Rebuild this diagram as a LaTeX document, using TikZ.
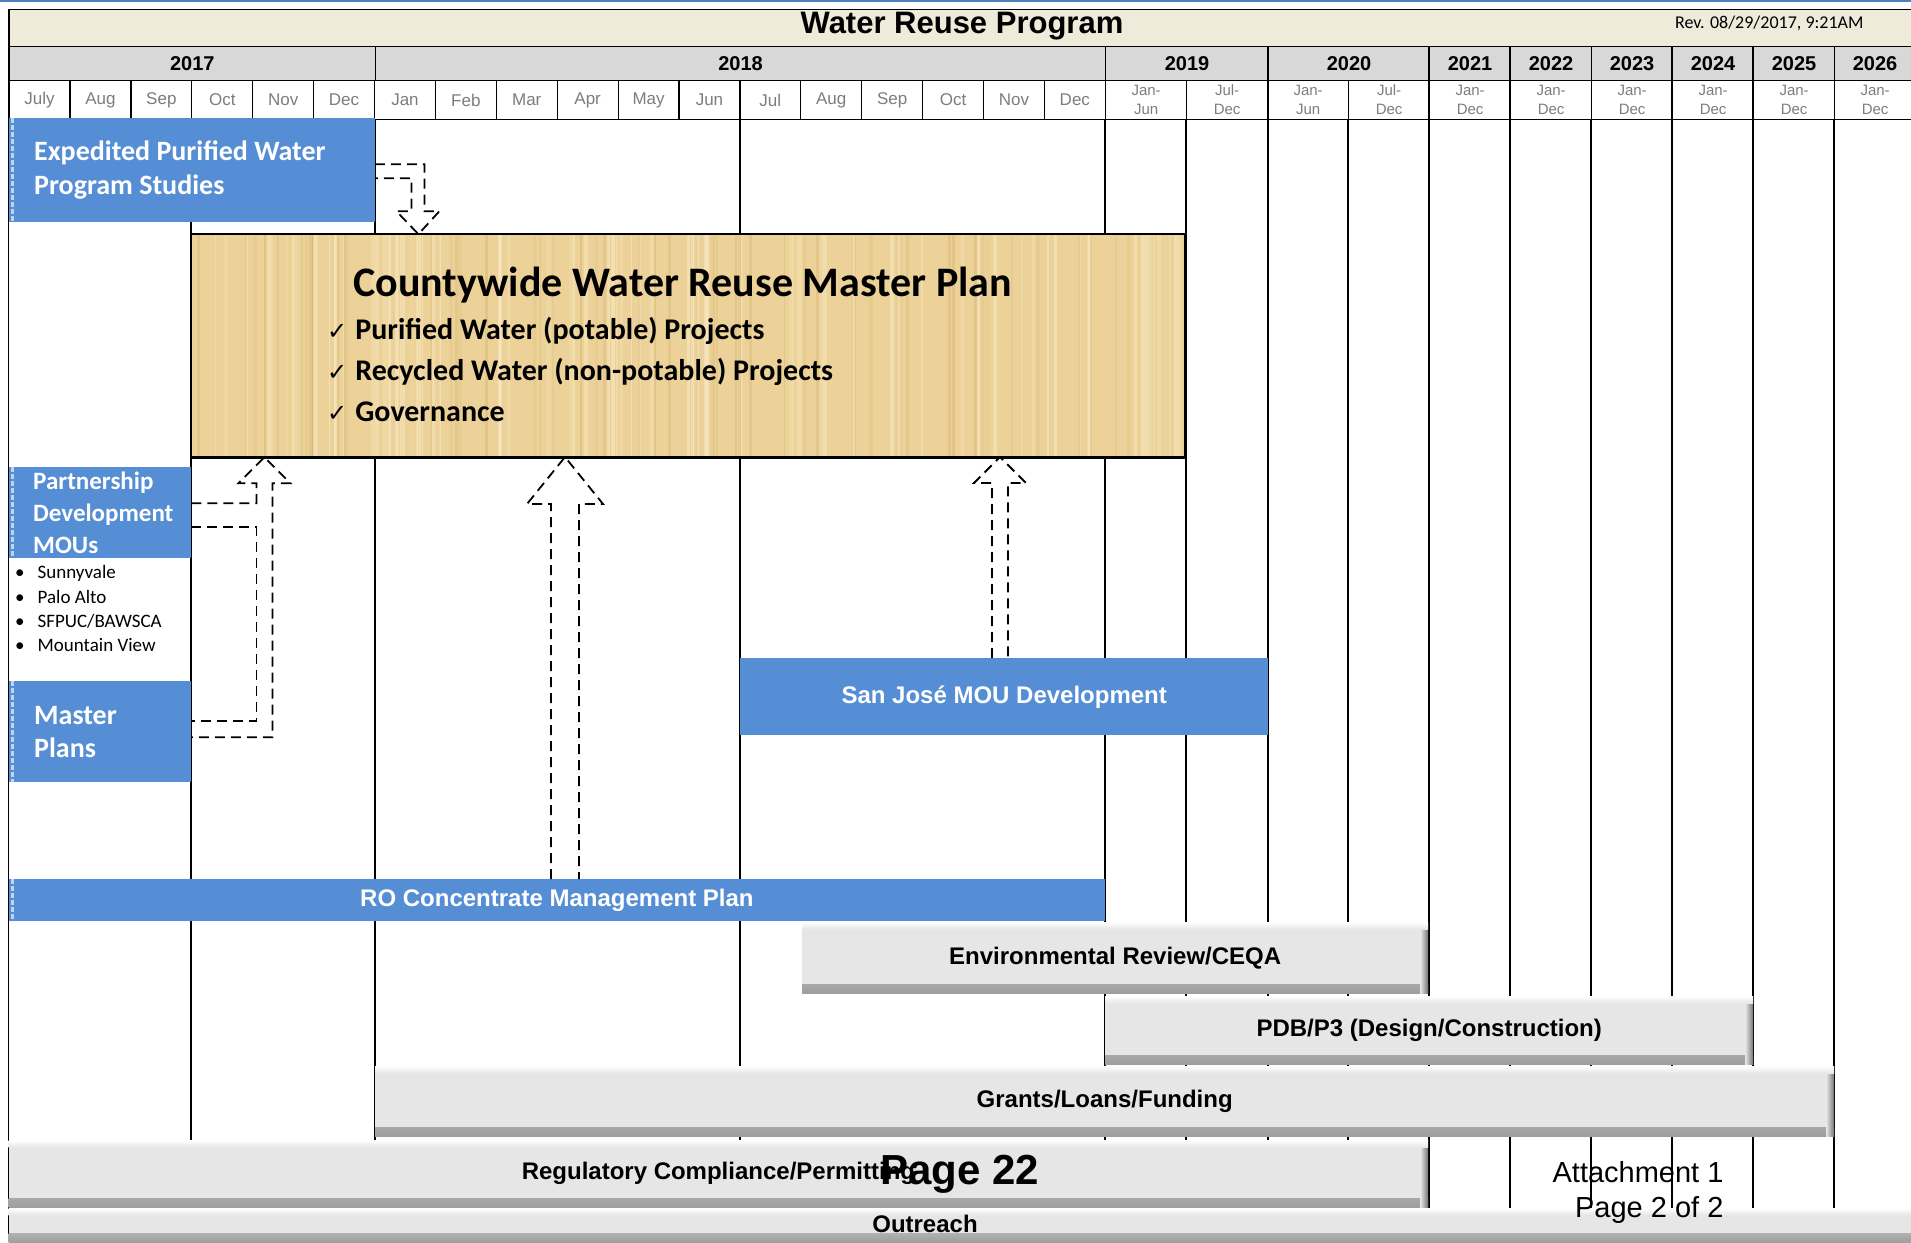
\documentclass[tikz,border=0pt]{standalone}
\usepackage{fontspec}
\setmainfont{Liberation Sans}
\newfontfamily\calfont{Carlito}
\newfontfamily\symfont{DejaVu Sans}
\usetikzlibrary{positioning,calc}

\definecolor{barblue}{RGB}{85,142,213}
\definecolor{stripblue}{RGB}{190,212,240}
\definecolor{titlebeige}{RGB}{238,235,218}
\definecolor{yeargray}{RGB}{216,216,216}
\definecolor{monthgray}{RGB}{125,125,125}
\definecolor{barfill}{RGB}{230,230,230}
\definecolor{woodtan}{RGB}{236,210,152}
\definecolor{woodlight}{RGB}{250,236,200}
\definecolor{wooddark}{RGB}{205,170,100}
\definecolor{topblue}{RGB}{79,129,189}

\tikzset{
	cell/.style={draw=black,line width=1.2pt,inner sep=0pt,anchor=north west},
	yearcell/.style={cell,fill=yeargray,font=\fontsize{20}{22}\selectfont\bfseries},
	monthcell/.style={cell,fill=white,text=monthgray,font=\fontsize{17}{18}\selectfont,minimum height=39pt},
	halfcell/.style={monthcell,font=\fontsize{15}{19}\selectfont,align=center},
	gridline/.style={line width=1.3pt},
	yearline/.style={line width=2.6pt},
	bluebox/.style={fill=barblue,inner sep=0pt,anchor=north west},
	bluetext/.style={text=white,align=left,inner sep=0pt,anchor=west},
	bluelabel/.style={text=white,font=\fontsize{24}{26}\selectfont\bfseries},
	leftstrip/.style={path picture={
		\draw[stripblue,line width=3pt,dash pattern=on 5pt off 2pt]
			([xshift=4pt]path picture bounding box.north west) -- ([xshift=4pt]path picture bounding box.south west);
	}},
	citytext/.style={font=\calfont\fontsize{19}{20}\selectfont,anchor=west,inner sep=0pt},
	planbox/.style={fill=woodtan,inner sep=0pt,anchor=north west,
		path picture={
			\pgfmathsetseed{42}
			\foreach \s in {1,...,90}{
				\pgfmathsetmacro{\sx}{rnd}
				\pgfmathsetmacro{\sw}{1+4*rnd}
				\pgfmathsetmacro{\so}{0.15+0.4*rnd}
				\draw[woodlight,opacity=\so,line width=\sw pt]
					($(path picture bounding box.north west)!\sx!(path picture bounding box.north east)$) -- ++(0,240);
			}
			\foreach \s in {1,...,60}{
				\pgfmathsetmacro{\sx}{rnd}
				\pgfmathsetmacro{\sw}{1+3*rnd}
				\pgfmathsetmacro{\so}{0.1+0.25*rnd}
				\draw[wooddark,opacity=\so,line width=\sw pt]
					($(path picture bounding box.north west)!\sx!(path picture bounding box.north east)$) -- ++(0,240);
			}
		}},
	plantitle/.style={font=\calfont\bfseries\fontsize{42}{44}\selectfont,anchor=west,inner sep=0pt},
	planitem/.style={font=\calfont\bfseries\fontsize{30}{32}\selectfont,anchor=west,inner sep=0pt},
	barlabel/.style={font=\fontsize{24}{26}\selectfont\bfseries,inner sep=0pt},
	bevelbar/.style={fill=barfill,inner sep=0pt,anchor=north west,
		font=\fontsize{24}{26}\selectfont\bfseries,
		path picture={
			\shade[top color=barfill,bottom color=black!38]
				([yshift=9pt]path picture bounding box.south west) rectangle (path picture bounding box.south east);
			\shade[left color=barfill,right color=black!55]
				([xshift=-8pt]path picture bounding box.north east) rectangle (path picture bounding box.south east);
			\shade[top color=white,bottom color=barfill]
				(path picture bounding box.north west) rectangle ([yshift=-7pt]path picture bounding box.north east);
		}},
	dasharrow/.style={draw=black,line width=1.8pt,dash pattern=on 10pt off 6pt}
}

\begin{document}
\begin{tikzpicture}[x=1pt,y=-1pt]
	\useasboundingbox (0,0) rectangle (1911,1242);
	\fill[white] (0,0) rectangle (1911,1242);
	\draw[topblue,line width=2pt] (0,1) -- (1911,1);

	% title band
	\node[cell,fill=titlebeige,minimum width=1910pt,minimum height=37pt] (titlebar) at (8.5,9) {};
	\node[font=\fontsize{31}{34}\selectfont\bfseries] (title) at (962,26) {Water Reuse Program};
	\node[font=\calfont\fontsize{18}{20}\selectfont,anchor=east] (rev) at (1867,23) {Rev. 08/29/2017, 9:21AM};

	% years
	\foreach \x/\w/\yr in {8.5/366.5/2017,375/730/2018,1105/163/2019,1268/161/2020,1429/81/2021,1510/81/2022,1591/81/2023,1672/81/2024,1753/81/2025,1834/81/2026}
		\node[yearcell,minimum width=\w pt,minimum height=34pt] (yr\yr) at (\x,46) {\yr};

	% months and half years
	\foreach \mon [count=\i from 0] in {July,Aug,Sep,Oct,Nov,Dec,Jan,Feb,Mar,Apr,May,Jun,Jul,Aug,Sep,Oct,Nov,Dec}
		\node[monthcell,minimum width=60.9pt] (mon\i) at ({8.5+60.9*\i},80) {\mon};
	\foreach \lab [count=\k from 0] in {{Jan-\\Jun},{Jul-\\Dec},{Jan-\\Jun},{Jul-\\Dec},{Jan-\\Dec},{Jan-\\Dec},{Jan-\\Dec},{Jan-\\Dec},{Jan-\\Dec},{Jan-\\Dec}}
		\node[halfcell,minimum width=81pt] (slot\k) at ({1105+81*\k},80) {\lab};

	% body grid
	\foreach \x in {191,375,740,1105,1186,1348,1591,1834}
		\draw[gridline] (\x,119) -- (\x,1242);
	\foreach \x in {1268,1429,1510,1672,1753}
		\draw[yearline] (\x,46) -- (\x,1242);
	\draw[gridline] (8.5,9) -- (8.5,1242);

	% studies, partnerships, master plans
	\node[bluebox,leftstrip,minimum width=366pt,minimum height=104pt] (exped) at (8.5,118) {};
	\node[bluetext,font=\calfont\bfseries\fontsize{28}{34}\selectfont] (expedtxt) at ($(exped.west)+(25.5,0)$) {Expedited Purified Water\\Program Studies};
	\node[bluebox,leftstrip,minimum width=182.5pt,minimum height=91pt] (partner) at (8.5,467) {};
	\node[bluetext,font=\calfont\bfseries\fontsize{25}{32}\selectfont] (partnertxt) at ($(partner.west)+(24.5,0)$) {Partnership\\Development\\MOUs};
	\foreach \city [count=\j from 0] in {Sunnyvale,Palo Alto,SFPUC/BAWSCA,Mountain View}
		\node[citytext] (city\j) at (15,{573+24*\j}) {\textbullet\hspace{13pt}\city};
	\node[bluebox,leftstrip,minimum width=182.5pt,minimum height=101pt] (master) at (8.5,681) {};
	\node[bluetext,font=\calfont\bfseries\fontsize{28}{33}\selectfont] (mastertxt) at ($(master.west)+(25.5,0)$) {Master\\Plans};

	% master plan box
	\node[planbox,minimum width=994pt,minimum height=223pt] (cwmp) at (191,234) {};
	\draw[line width=2.5pt] (cwmp.north west) rectangle (cwmp.south east);
	\node[plantitle] (cwtitle) at ($(cwmp.north west)+(162,51)$) {Countywide Water Reuse Master Plan};
	\foreach \chk [count=\j from 0] in {Purified Water (potable) Projects,Recycled Water (non-potable) Projects,Governance}
		\node[planitem] (chk\j) at ($(cwmp.north west)+(136,97+40.5*\j)$) {{\symfont\fontsize{24}{24}\selectfont ✓}\hspace{8pt}\chk};

	% blue bars
	\node[bluebox,bluelabel,minimum width=528pt,minimum height=77pt] (sanjose) at (740,658) {San José MOU Development};
	\node[bluebox,bluelabel,leftstrip,minimum width=1096.5pt,minimum height=42pt] (ro) at (8.5,879) {RO Concentrate Management Plan};

	% gray bars
	\node[bevelbar,minimum width=626pt,minimum height=71pt] (envrev) at (802,922) {Environmental Review/CEQA};
	\node[bevelbar,minimum width=648pt,minimum height=68pt] (pdb) at (1105,996) {PDB/P3 (Design/Construction)};
	\node[bevelbar,minimum width=1459pt,minimum height=70pt] (grants) at (375,1066) {Grants/Loans/Funding};
	\node[bevelbar,minimum width=1419.5pt,minimum height=67pt] (regcomp) at (8.5,1140) {Regulatory Compliance/Permitting};
	\node[bevelbar,minimum width=1920pt,minimum height=34pt] (outreach) at (8.5,1208) {};
	\node[barlabel] (outreachtxt) at (925,1224) {Outreach};

	% dashed block arrows
	\draw[dasharrow] ([yshift=6pt]exped.east) -- ++(49.5,0) -- ++(0,47) -- ++(15,0) -- ++(-21,23) -- ++(-22,-23) -- ++(15,0) -- ++(0,-33) -- ++(-36.5,0);
	\draw[dasharrow] ([yshift=9.5pt]partner.east) -- ++(65,0) -- ++(0,-20) -- ++(-18,0) -- ++(26,-26) -- ++(26,26) -- ++(-18,0) -- ++(0,254) -- ++(-81,0);
	\draw[dasharrow] ([yshift=-14.5pt]partner.east) -- ++(65,0) -- ++(0,194) -- ++(-65,0);
	\draw[dasharrow] ($(ro.north west)+(542.5,0)$) -- ++(0,-375) -- ++(-24,0) -- ++(38,-47) -- ++(38,47) -- ++(-24,0) -- ++(0,375);
	\draw[dasharrow] ($(sanjose.north west)+(252,0)$) -- ++(0,-175) -- ++(-18,0) -- ++(26,-26) -- ++(26,26) -- ++(-18,0) -- ++(0,175);

	% page marks
	\node[font=\fontsize{42}{44}\selectfont\bfseries] (pagenum) at (960,1174) {Page 22};
	\node[font=\fontsize{29}{35}\selectfont,align=right,anchor=east] (attach) at (1727,1192) {Attachment 1\\Page 2 of 2};
\end{tikzpicture}
\end{document}
